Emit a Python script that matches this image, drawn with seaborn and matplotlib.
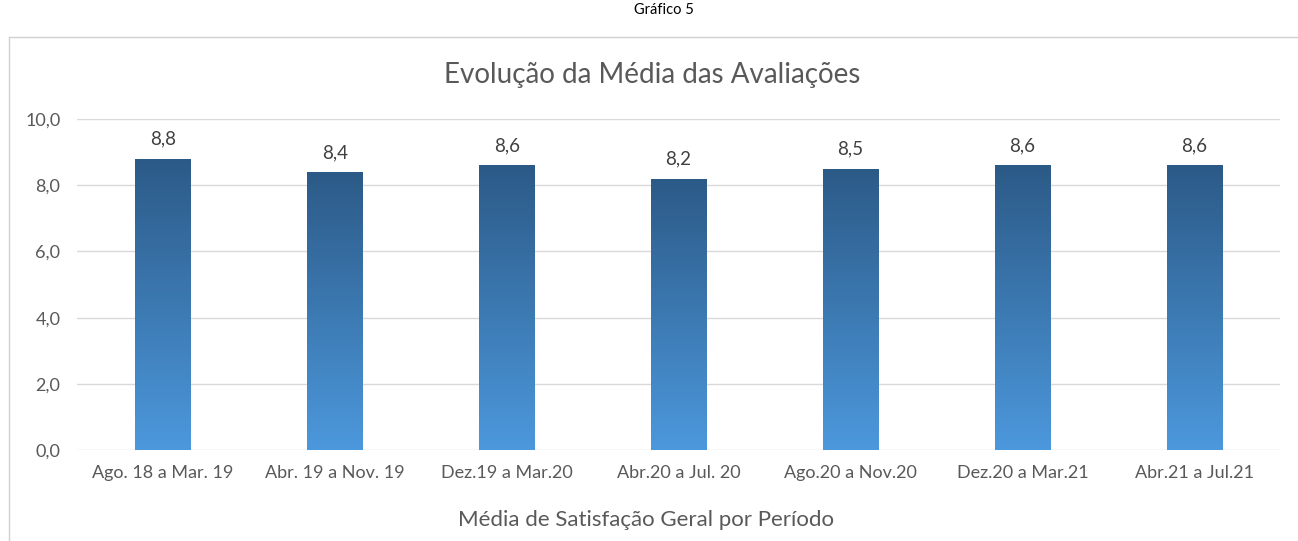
import numpy as np
import pandas as pd
import seaborn as sns
import matplotlib.pyplot as plt
from matplotlib.lines import Line2D
from matplotlib.colors import LinearSegmentedColormap

# Dados
periodos = ['Ago. 18 a Mar. 19', 'Abr. 19 a Nov. 19', 'Dez.19 a Mar.20',
            'Abr.20 a Jul. 20', 'Ago.20 a Nov.20', 'Dez.20 a Mar.21', 'Abr.21 a Jul.21']
medias = [8.8, 8.4, 8.6, 8.2, 8.5, 8.6, 8.6]
y_ticks = [0, 2, 4, 6, 8, 10]

df = pd.DataFrame({'periodo': periodos, 'media': medias})

sns.set_theme(style='white')
plt.rcParams['font.family'] = ['Lato', 'DejaVu Sans']

fig = plt.figure(figsize=(12.98, 5.41), dpi=100)
ax = fig.add_axes([0.0593, 0.168, 0.927, 0.612])

sns.barplot(data=df, x='periodo', y='media', color='#3a78b5', width=0.32, ax=ax, zorder=2)

# Gradiente nas barras
cmap = LinearSegmentedColormap.from_list('grad', ['#4c98dc', '#2c5a87'])
grad = np.linspace(0, 1, 256).reshape(-1, 1)
for p in ax.patches:
    x0, y0 = p.get_x(), p.get_y()
    w, h = p.get_width(), p.get_height()
    im = ax.imshow(grad, cmap=cmap, aspect='auto', origin='lower',
                   extent=[x0, x0 + w, y0, y0 + h], zorder=3)
    im.set_clip_path(p)
    p.set_facecolor('none')
    p.set_edgecolor('none')

ax.set_xlim(-0.5, len(periodos) - 0.5)
ax.set_ylim(0, 10)
ax.set_yticks(y_ticks)
ax.set_yticklabels([f'{v:.1f}'.replace('.', ',') for v in y_ticks])
ax.yaxis.grid(True, color='#d9d9d9', linewidth=1, zorder=0)
ax.set_axisbelow(True)
for s in ax.spines.values():
    s.set_visible(False)
ax.tick_params(axis='both', colors='#595959', labelsize=13, length=0)
ax.tick_params(axis='y', pad=12)
ax.tick_params(axis='x', pad=11)

for i, v in enumerate(medias):
    ax.text(i, v + 0.33, f'{v:.1f}'.replace('.', ','), ha='center', va='bottom',
            fontsize=13.5, color='#404040')

ax.set_xlabel('Média de Satisfação Geral por Período', fontsize=16, color='#595959')
ax.xaxis.set_label_coords((646 - 77) / 1203, -0.18)
ax.set_ylabel('')

fig.text(652 / 1298, 1 - 75 / 541, 'Evolução da Média das Avaliações', ha='center', va='center',
         fontsize=20, color='#595959')
fig.text(664 / 1298, 1 - 10 / 541, 'Gráfico 5', ha='center', va='center', fontsize=10.5, color='#000000')

# Moldura do gráfico
fig.add_artist(Line2D([9 / 1298, 1], [1 - 37 / 541, 1 - 37 / 541], color='#d0d0d0', linewidth=1))
fig.add_artist(Line2D([9 / 1298, 9 / 1298], [0, 1 - 37 / 541], color='#d0d0d0', linewidth=1))

fig.savefig('out.png', dpi=100)
